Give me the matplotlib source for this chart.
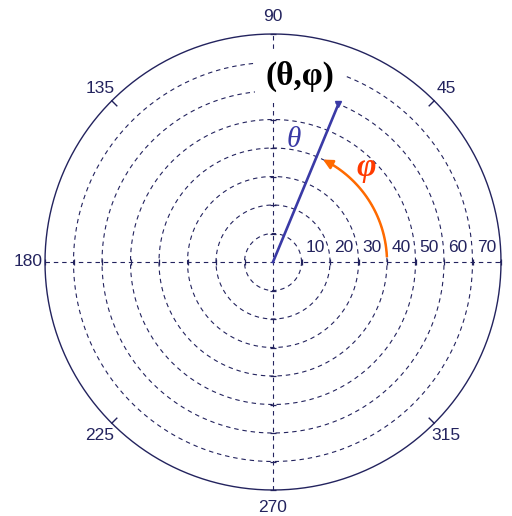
import numpy as np
import matplotlib
matplotlib.use('Agg')
import matplotlib.pyplot as plt

# 数据
ring_r = [10, 20, 30, 40, 50, 60, 70]  # 网格圆
r_max = 80
ring_labels = ['10', '20', '30', '40', '50', '60', '70']
ang_ticks = [0, 45, 90, 135, 180, 225, 270, 315]
ang_labels = ['0', '45', '90', '135', '180', '225', '270', '315']
theta_len = 60      # 向量长度 θ
phi_deg = 67.5      # 方位角 φ
arc_r = 40          # φ 弧线半径
arc_start, arc_end = 3, 64

navy = '#23235e'
blue = '#3a3aa6'
orange = '#ff6a00'

fig = plt.figure(figsize=(5.12, 5.16), dpi=100)
ax = fig.add_axes([0, 0, 1, 1])
s = 2.85  # px / unit
ax.set_xlim(-273 / s, (512 - 273) / s)
ax.set_ylim(-(516 - 262) / s, 262 / s)
ax.set_aspect('equal')
ax.axis('off')

t = np.linspace(0, 2 * np.pi, 721)
for r in ring_r:
    ax.plot(r * np.cos(t), r * np.sin(t), color=navy, lw=0.8,
            ls=(0, (4, 3.5)), zorder=1)
ax.plot(r_max * np.cos(t), r_max * np.sin(t), color=navy, lw=1.0, zorder=2)

# 坐标轴虚线
ax.plot([-r_max, r_max], [0, 0], color=navy, lw=0.8, ls=(0, (4, 3.5)), zorder=1)
ax.plot([0, 0], [-r_max, r_max], color=navy, lw=0.8, ls=(0, (4, 3.5)), zorder=1)
rr = np.array(ring_r + [r_max])
ax.plot(np.r_[rr, -rr], np.zeros(2 * len(rr)), ls='none', marker='|',
        ms=5, mew=0.9, color=navy, zorder=2)
ax.plot(np.zeros(2 * len(rr)), np.r_[rr, -rr], ls='none', marker='_',
        ms=5, mew=0.9, color=navy, zorder=2)

# 外圈 45° 刻度
for a in [45, 135, 225, 315]:
    c, sn = np.cos(np.radians(a)), np.sin(np.radians(a))
    ax.plot([r_max * c, (r_max - 2.5) * c], [r_max * sn, (r_max - 2.5) * sn],
            color=navy, lw=1.0, zorder=2)

for a, lab in zip(ang_ticks, ang_labels):
    rl = 86
    ax.text(rl * np.cos(np.radians(a)), rl * np.sin(np.radians(a)), lab,
            ha='center', va='center', fontsize=12.5, color=navy,
            family='Liberation Sans')

for r, lab in zip(ring_r, ring_labels):
    ax.text(r + 1.5, 5.2, lab, ha='left', va='center', fontsize=12.5,
            color=navy, family='Liberation Sans', zorder=3)

# 向量
pr = np.radians(phi_deg)
ax.plot([0, theta_len * np.cos(pr)], [0, theta_len * np.sin(pr)],
        color=blue, lw=1.9, zorder=7)
ax.plot([theta_len * np.cos(pr)], [theta_len * np.sin(pr)], marker='v',
        ms=5, color=blue, zorder=8)

# φ 弧线
ta = np.radians(np.linspace(arc_start, arc_end, 60))
ax.plot(arc_r * np.cos(ta[:-3]), arc_r * np.sin(ta[:-3]), color=orange,
        lw=1.8, zorder=4)
ax.annotate('', xy=(arc_r * np.cos(ta[-1]), arc_r * np.sin(ta[-1])),
            xytext=(arc_r * np.cos(ta[-6]), arc_r * np.sin(ta[-6])),
            arrowprops=dict(arrowstyle='-|>', color=orange, lw=1.8,
                            mutation_scale=14, shrinkA=0, shrinkB=0),
            zorder=4)

ax.text(9.5, 65.3, '(θ,φ)', ha='center', va='center', fontsize=24,
        fontweight='bold', family='Liberation Serif', color='black',
        bbox=dict(facecolor='white', edgecolor='none', pad=8), zorder=6)
ax.text(7.4, 42.8, 'θ', ha='center', va='center', fontsize=21,
        style='italic', family='Liberation Serif', color=blue, zorder=6)
ax.text(32.6, 33, 'φ', ha='center', va='center', fontsize=24,
        style='italic', fontweight='bold', family='Liberation Serif',
        color='#ff3a00', zorder=6)

fig.savefig('out.png', dpi=100, facecolor='white')
